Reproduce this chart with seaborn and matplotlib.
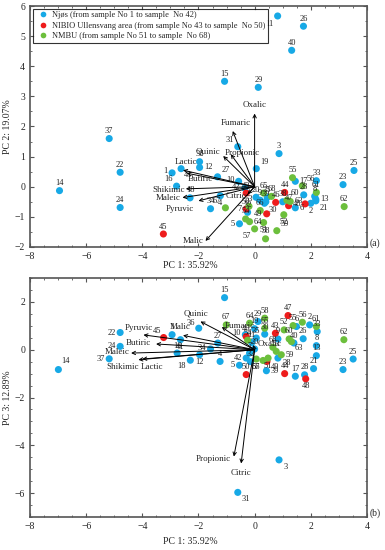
import numpy as np
import pandas as pd
import matplotlib
matplotlib.use("Agg")
import matplotlib.pyplot as plt
import seaborn as sns
from matplotlib.ticker import MultipleLocator

# ---- data (sample numbers 1..68) ----
sample_ids = list(range(1, 69))
groups = (["Njøs (from sample No 1 to sample  No 42)"] * 42
          + ["NIBIO Ullensvang area (from sample No 43 to sample  No 50)"] * 8
          + ["NMBU (from sample No 51 to sample  No 68)"] * 18)

pc1 = [-2.94, 2.00, 0.87, -1.22, -0.54, 1.45, -0.30, 2.14, 0.20, -0.57,
       0.82, -1.96, 2.18, -6.95, -1.07, -2.78, 1.45, -2.30, 0.06, 0.05,
       2.18, -4.79, 3.15, -4.79, 3.54, 1.74, -1.32, 1.75, 0.13, 0.35,
       -0.60, -0.25, 2.20, -1.57, 0.45, -1.96, -5.18, 1.00, 0.40, 1.32,
       -2.62, -0.35,
       -0.30, 1.07, -3.25, 0.75, 1.21, 1.80, 0.43, -0.30,
       0.32, 1.04, -0.20, -0.32, 1.35, 1.70, 0.00, 0.39, 0.79, 1.15,
       2.20, 3.19, 1.27, -0.18, 0.32, 0.20, -1.04, 0.60]
pc2 = [0.46, -0.55, 1.10, -0.30, -1.23, -0.70, -0.75, -0.32, -0.45, 0.18,
       5.67, 0.64, -0.42, -0.13, 3.50, 0.02, 0.18, -0.37, 0.60, -0.35,
       -0.47, 0.48, 0.07, -0.69, 0.54, 5.33, 0.33, -0.27, 3.30, -0.55,
       1.33, -0.85, 0.20, -0.73, -0.35, 0.83, 1.60, -0.50, -0.50, 4.53,
       0.60, -0.05,
       -0.21, -0.19, -1.57, -0.52, -0.63, -0.57, -0.90, -0.74,
       -1.19, -0.93, -0.65, -1.07, 0.30, 0.03, -1.40, -1.73, -1.46, -0.45,
       -0.19, -0.66, -0.49, -1.16, -0.21, -0.79, -0.70, -0.32]
pc3 = [0.63, 1.04, -4.61, -0.49, -0.65, 0.97, -0.14, 0.17, 0.45, 0.63,
       0.30, -0.21, -0.25, -0.83, 2.18, -0.14, -1.11, -0.44, 0.88, 0.03,
       -0.79, 0.72, -0.83, 0.14, -0.39, 0.46, 0.28, -1.05, 1.18, 0.65,
       -5.97, -0.50, 0.76, 0.03, 0.49, 0.90, -0.38, -0.35, -0.88, 0.28,
       0.42, -0.35,
       0.69, -1.00, 0.51, 0.55, 1.43, -1.22, -0.49, -1.04,
       -0.35, 0.83, -0.07, 0.40, 1.01, 1.15, -0.45, 1.32, -0.21, 0.45,
       0.97, 0.42, 0.34, 1.11, 0.90, -0.39, 1.04, 0.10]
pc1_b = [-2.94, 1.96, 0.87, -1.23, -0.54, 1.49, -0.18, 2.20, 0.83, -0.33,
         -0.10, -1.96, 2.20, -6.99, -1.07, -2.76, 1.45, -2.29, 0.00, 0.00,
         2.10, -4.79, 3.15, -4.79, 3.51, 1.73, -1.31, 1.78, 0.12, 0.36,
         -0.60, -0.15, 2.23, -1.57, 0.06, -1.99, -5.18, 0.83, 0.42, 1.40,
         -2.64, -0.30,
         0.74, 1.07, -3.24, -0.30, 1.19, 1.82, 0.44, -0.30,
         0.48, 1.05, 0.77, -0.25, 1.37, 1.70, 0.30, 0.36, 0.95, 1.23,
         2.20, 3.18, 1.31, -0.18, 0.36, 0.06, -1.01, 0.65]

# loadings (arrow tips)
acids_a = ["Oxalic", "Fumaric", "Quinic", "Propionic", "Lactic", "Butiric",
           "Shikimic", "Maleic", "Pyruvic", "Malic", "Citric"]
load_a_x = [0.00, -0.78, -1.12, -0.85, -2.55, -2.42, -2.45, -2.57, -2.00, -1.75, -0.25]
load_a_y = [2.43, 1.85, 1.02, 1.08, 0.55, 0.45, -0.07, -0.36, -0.47, -1.80, -0.25]

acids_b = ["Pyruvic", "Malic", "Butiric", "Maleic", "Shikimic", "Lactic",
           "Quinic", "Fumaric", "Oxalic", "Propionic", "Citric"]
load_b_x = [-3.96, -2.55, -3.51, -4.40, -4.14, -4.00, -1.93, -1.17, -0.05, -0.74, -0.48]
load_b_y = [0.62, 0.60, 0.24, -0.14, -0.42, -0.39, 1.18, 0.95, 0.20, -4.47, -4.76]

palette = {groups[0]: "#17a9e6", groups[42]: "#ee1c1c", groups[50]: "#6cbf3c"}

# label placement tweaks: (dx, dy, ha, va) in points
above = (0, 2.5, "center", "bottom")
lab_a = {11: (-3, -3, "right", "top"), 1: (-3, 1, "right", "center"),
         41: (2, -2, "left", "top"), 16: (-3, 2, "right", "bottom"),
         12: (3, 0, "left", "center"), 31: (-3, 2, "right", "bottom"),
         19: (3, 2, "left", "bottom"), 10: (-3, 1, "right", "center"),
         27: (3, 2, "left", "bottom"), 5: (-3, 0, "right", "center"),
         64: (3, 0, "left", "center"), 57: (-3, -2, "right", "top"),
         59: (3, 2, "left", "bottom"), 21: (3, -2, "left", "top"),
         2: (0, -2.5, "center", "top"), 13: (3, 0, "left", "center"),
         56: (3, 2, "left", "bottom"), 17: (3, 0, "left", "center"),
         63: (3, 0, "left", "center"), 6: (3, 0, "left", "center"),
         52: (0, -2.5, "center", "top"), 30: (3, -2, "left", "top"),
         49: (-3, 0, "right", "center"), 51: (0, -2.5, "center", "top"),
         67: (-3, 2, "right", "bottom"), 4: (0, -2.5, "center", "top"),
         48: (-3, 0, "right", "center"), 60: (3, 2, "left", "bottom"),
         42: (-3, 1, "right", "center"), 7: (-3, 0, "right", "center")}
lab_b = {3: (3, -2, "left", "top"), 31: (3, -2, "left", "top"),
         14: (2, 3, "left", "bottom"), 22: (-3, 0, "right", "center"),
         24: (-3, 0, "right", "center"), 37: (-3, 0, "right", "center"),
         45: (-2, 2, "right", "bottom"), 36: (-3, 1, "right", "bottom"),
         18: (-3, -1, "right", "top"), 12: (0, -2.5, "center", "top"),
         41: (0, -2.5, "center", "top"), 5: (-3, 0, "right", "center"),
         42: (-3, 0, "right", "center"), 39: (3, 0, "left", "center"),
         59: (3, 0, "left", "center"), 48: (0, -2.5, "center", "top"),
         38: (3, -1, "left", "top"), 34: (-3, 1, "right", "center"),
         10: (-3, 1, "right", "center"), 63: (2, -2, "left", "top"),
         49: (3, -1, "left", "top"), 51: (0, -2.5, "center", "top"),
         66: (0, -2.5, "center", "top"), 57: (-2, -2, "right", "top")}

df = pd.DataFrame({"id": sample_ids, "group": groups,
                   "pc1": pc1, "pc2": pc2, "pc3": pc3, "pc1_b": pc1_b})

sns.set_style("ticks")
plt.rcParams["font.family"] = ["Liberation Serif", "DejaVu Serif"]
plt.rcParams["axes.edgecolor"] = "#555555"
plt.rcParams["axes.linewidth"] = 1.2

fig = plt.figure(figsize=(3.85, 5.5), dpi=100)
ax1 = fig.add_axes([0.078, 0.551, 0.875, 0.438])
ax2 = fig.add_axes([0.078, 0.060, 0.875, 0.4345])


def draw_panel(ax, xcol, ycol, names, lx, ly, label_pos, offsets, legend):
    sns.scatterplot(data=df, x=xcol, y=ycol, hue="group", palette=palette,
                    s=26, edgecolor="none", ax=ax, legend=legend, zorder=3)
    for _, r in df.iterrows():
        dx, dy, ha, va = offsets.get(r["id"], above)
        ax.annotate(str(r["id"]), (r[xcol], r[ycol]), xytext=(dx, dy),
                    textcoords="offset points", ha=ha, va=va, fontsize=6,
                    color="#222222", zorder=4)
    for name, x, y in zip(names, lx, ly):
        ax.annotate("", xy=(x, y), xytext=(0, 0),
                    arrowprops=dict(arrowstyle="->", lw=0.7, color="black",
                                    shrinkA=0, shrinkB=0, mutation_scale=6),
                    zorder=5)
        dx, dy, ha, va = label_pos[name]
        ax.annotate(name, (x, y), xytext=(dx, dy), textcoords="offset points",
                    ha=ha, va=va, fontsize=6.5, zorder=6)
    ax.set_xlim(-8, 4)
    ax.xaxis.set_major_locator(MultipleLocator(2))
    ax.xaxis.set_minor_locator(MultipleLocator(0.5))
    ax.yaxis.set_minor_locator(MultipleLocator(0.5))
    ax.tick_params(which="both", direction="in", top=True, right=True,
                   labelsize=7, color="#555555")
    ax.tick_params(which="major", length=3)
    ax.tick_params(which="minor", length=1.5)
    ax.set_xlabel("PC 1: 35.92%", fontsize=7)


pos_a = {"Oxalic": (0, 3, "center", "bottom"), "Fumaric": (2, 3, "center", "bottom"),
         "Quinic": (-2, 3, "right", "center"), "Propionic": (-4, 1, "left", "center"),
         "Lactic": (2, 3, "center", "bottom"), "Butiric": (1, -1, "left", "top"),
         "Shikimic": (-1, -1, "right", "center"), "Maleic": (-1, 0, "right", "center"),
         "Pyruvic": (-3, -3, "right", "top"), "Malic": (-1, 0, "right", "center"),
         "Citric": (-1, -1, "right", "center")}
pos_b = {"Pyruvic": (-3, 2, "center", "bottom"), "Malic": (-2, 3, "center", "bottom"),
         "Butiric": (-4, 1, "right", "center"), "Maleic": (-1, 1, "right", "center"),
         "Shikimic": (-11, -2, "center", "top"), "Lactic": (7, -3, "center", "top"),
         "Quinic": (-3, 3, "center", "bottom"), "Fumaric": (2, 1, "left", "center"),
         "Oxalic": (3, 1, "left", "center"), "Propionic": (-2, -2, "right", "center"),
         "Citric": (0, -4, "center", "top")}

draw_panel(ax1, "pc1", "pc2", acids_a, load_a_x, load_a_y, pos_a, lab_a, True)
ax1.set_ylim(-2, 6)
ax1.yaxis.set_major_locator(MultipleLocator(1))
ax1.set_ylabel("PC 2: 19.07%", fontsize=7, labelpad=2)
ax1.xaxis.set_label_coords(0.475, -0.06)
leg = ax1.legend(loc="upper left", bbox_to_anchor=(0.0, 1.0), fontsize=6,
                 frameon=True, fancybox=False, edgecolor="black",
                 handletextpad=0.0, borderpad=0.3, labelspacing=0.3,
                 markerscale=0.8, borderaxespad=0.3)
leg.get_frame().set_linewidth(0.8)
leg.set_zorder(10)

draw_panel(ax2, "pc1_b", "pc3", acids_b, load_b_x, load_b_y, pos_b, lab_b, False)
ax2.set_ylim(-7, 3)
ax2.yaxis.set_major_locator(MultipleLocator(2))
ax2.set_ylabel("PC 3: 12.89%", fontsize=7, labelpad=2)
ax2.xaxis.set_label_coords(0.475, -0.085)

fig.text(0.960, 0.558, "(a)", fontsize=7, va="center")
fig.text(0.960, 0.067, "(b)", fontsize=7, va="center")

fig.savefig("out.png", dpi=100)
